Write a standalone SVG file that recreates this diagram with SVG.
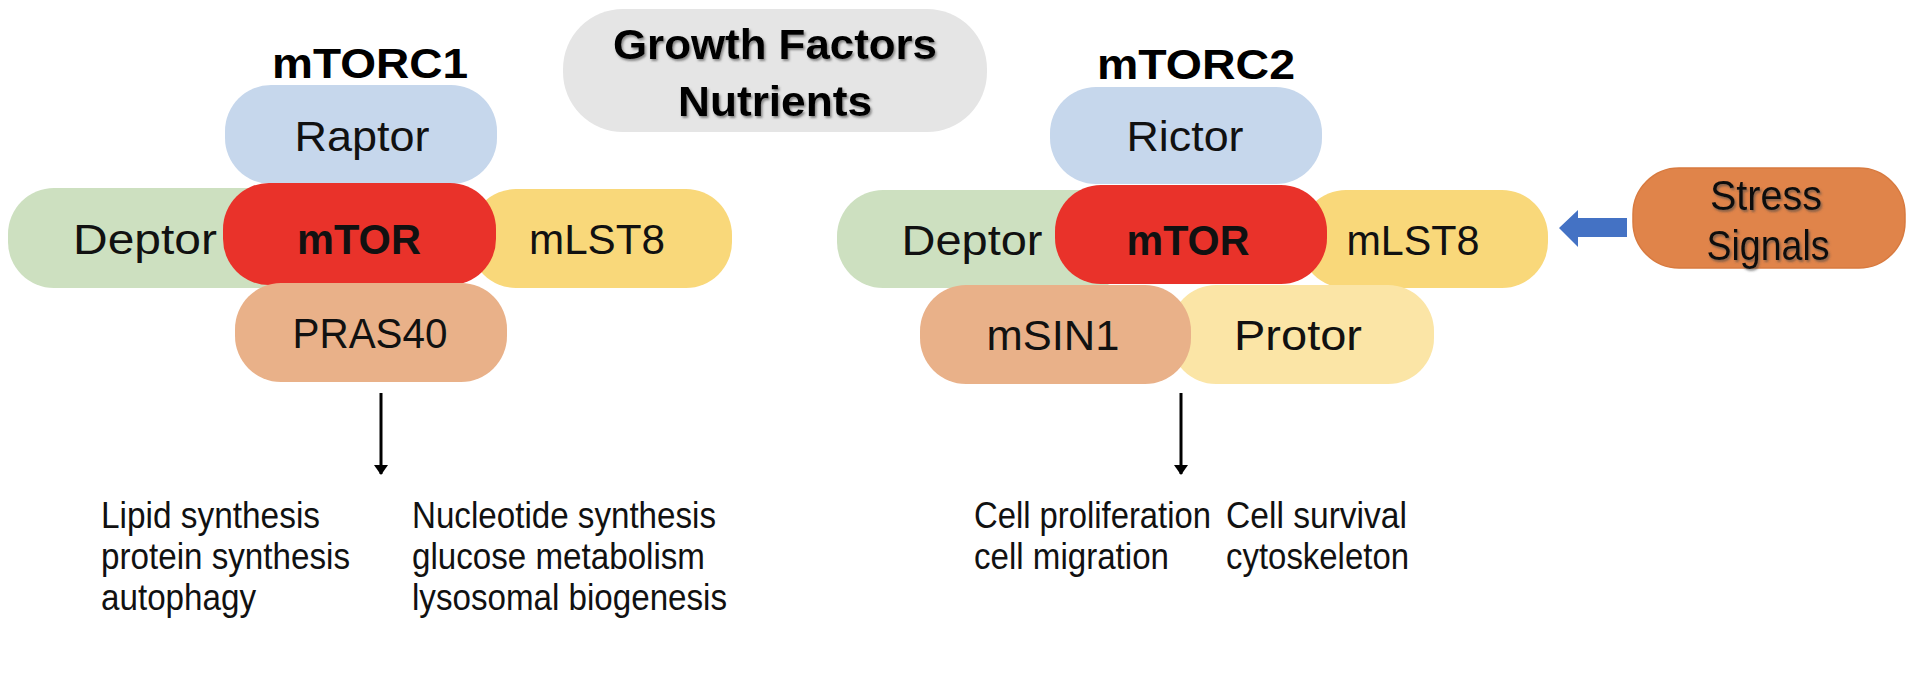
<svg xmlns="http://www.w3.org/2000/svg" width="1913" height="688" viewBox="0 0 1913 688">
<defs>
<style>
.lbl{font-family:"Liberation Sans",Arial,sans-serif;font-size:43px;fill:#111;text-anchor:middle;}
.bold{font-weight:bold;}
.title{font-family:"Liberation Sans",Arial,sans-serif;font-size:42px;font-weight:bold;fill:#000;text-anchor:middle;}
.out{font-family:"Liberation Sans",Arial,sans-serif;font-size:36px;fill:#111;}
.raptor{fill:#c6d7ec;}
.deptor{fill:#cde0c0;}
.mtor{fill:#e9322a;}
.mlst8{fill:#f9d87a;}
.pras{fill:#e9b189;}
.protor{fill:#fbe5a6;}
.stress{fill:#e0844a;stroke:#d87a3f;stroke-width:1.5;}
.growth{fill:#e5e5e5;}
.conn{stroke:#000;stroke-width:3;fill:none;}
</style>
<filter id="shadow" x="-10%" y="-20%" width="120%" height="150%">
<feDropShadow dx="1.5" dy="2" stdDeviation="1.2" flood-color="#444" flood-opacity="0.6"/>
</filter>
<marker id="ah" viewBox="0 0 10 14" refX="9" refY="7" markerWidth="10" markerHeight="14" markerUnits="userSpaceOnUse" orient="auto">
<path d="M0,0 L10,7 L0,14 z" fill="#000" transform="rotate(0)"/>
</marker>
</defs>
<rect width="1913" height="688" fill="#fff"/>

<g id="growth-factors">
<rect class="growth" x="563" y="9" width="424" height="123" rx="60"/>
<text class="title" x="775" y="59" font-size="40" textLength="324" lengthAdjust="spacingAndGlyphs" filter="url(#shadow)">Growth Factors</text>
<text class="title" x="775" y="116" font-size="40" textLength="194" lengthAdjust="spacingAndGlyphs" filter="url(#shadow)">Nutrients</text>
</g>

<g id="mTORC1">
<text class="title" x="370" y="78" textLength="196" lengthAdjust="spacingAndGlyphs">mTORC1</text>
<g id="c1-raptor"><rect class="raptor" x="225" y="85" width="272" height="99" rx="46"/>
<text class="lbl" x="362" y="151" textLength="135" lengthAdjust="spacingAndGlyphs">Raptor</text></g>
<g id="c1-deptor"><rect class="deptor" x="8" y="188" width="300" height="100" rx="46"/>
<text class="lbl" x="145" y="254" textLength="144" lengthAdjust="spacingAndGlyphs">Deptor</text></g>
<g id="c1-mlst8"><rect class="mlst8" x="470" y="189" width="262" height="99" rx="46"/>
<text class="lbl" x="597" y="254" textLength="136" lengthAdjust="spacingAndGlyphs">mLST8</text></g>
<g id="c1-mtor"><rect class="mtor" x="223" y="183" width="273" height="102" rx="46"/>
<text class="lbl bold" x="359" y="254" textLength="124" lengthAdjust="spacingAndGlyphs">mTOR</text></g>
<g id="c1-pras40"><rect class="pras" x="235" y="283" width="272" height="99" rx="46"/>
<text class="lbl" x="370" y="348" textLength="155" lengthAdjust="spacingAndGlyphs">PRAS40</text></g>
</g>

<g id="mTORC2">
<text class="title" x="1196" y="79" textLength="198" lengthAdjust="spacingAndGlyphs">mTORC2</text>
<g id="c2-rictor"><rect class="raptor" x="1050" y="87" width="272" height="97" rx="46"/>
<text class="lbl" x="1185" y="151" textLength="117" lengthAdjust="spacingAndGlyphs">Rictor</text></g>
<g id="c2-deptor"><rect class="deptor" x="837" y="190" width="300" height="98" rx="46"/>
<text class="lbl" x="972" y="255" textLength="141" lengthAdjust="spacingAndGlyphs">Deptor</text></g>
<g id="c2-mlst8"><rect class="mlst8" x="1300" y="190" width="248" height="98" rx="46"/>
<text class="lbl" x="1413" y="255" textLength="133" lengthAdjust="spacingAndGlyphs">mLST8</text></g>
<g id="c2-mtor"><rect class="mtor" x="1055" y="185" width="272" height="99" rx="46"/>
<text class="lbl bold" x="1188" y="255" textLength="123" lengthAdjust="spacingAndGlyphs">mTOR</text></g>
<g id="c2-protor"><rect class="protor" x="1170" y="285" width="264" height="99" rx="46"/>
<text class="lbl" x="1298" y="350" textLength="128" lengthAdjust="spacingAndGlyphs">Protor</text></g>
<g id="c2-msin1"><rect class="pras" x="920" y="285" width="271" height="99" rx="46"/>
<text class="lbl" x="1053" y="350" textLength="133" lengthAdjust="spacingAndGlyphs">mSIN1</text></g>
</g>

<g id="stress-signals">
<rect class="stress" x="1633" y="168" width="272" height="100" rx="46"/>
<text class="lbl" x="1766" y="210" textLength="112" lengthAdjust="spacingAndGlyphs" filter="url(#shadow)">Stress</text>
<text class="lbl" x="1768" y="260" textLength="123" lengthAdjust="spacingAndGlyphs" filter="url(#shadow)">Signals</text>
</g>

<g id="connectors">
<line class="conn" x1="381" y1="393" x2="381" y2="474" marker-end="url(#ah)"/>
<line class="conn" x1="1181" y1="393" x2="1181" y2="474" marker-end="url(#ah)"/>
<polygon points="1627,218 1578,218 1578,210 1559,228 1578,247 1578,237 1627,237" fill="#4472c4"/>
</g>

<g id="mTORC1-outputs">
<text class="out" x="101" y="528" textLength="219" lengthAdjust="spacingAndGlyphs">Lipid synthesis</text>
<text class="out" x="101" y="569" textLength="249" lengthAdjust="spacingAndGlyphs">protein synthesis</text>
<text class="out" x="101" y="610" textLength="155" lengthAdjust="spacingAndGlyphs">autophagy</text>
<text class="out" x="412" y="528" textLength="304" lengthAdjust="spacingAndGlyphs">Nucleotide synthesis</text>
<text class="out" x="412" y="569" textLength="293" lengthAdjust="spacingAndGlyphs">glucose metabolism</text>
<text class="out" x="412" y="610" textLength="315" lengthAdjust="spacingAndGlyphs">lysosomal biogenesis</text>
</g>

<g id="mTORC2-outputs">
<text class="out" x="974" y="528" textLength="237" lengthAdjust="spacingAndGlyphs">Cell proliferation</text>
<text class="out" x="974" y="569" textLength="195" lengthAdjust="spacingAndGlyphs">cell migration</text>
<text class="out" x="1226" y="528" textLength="181" lengthAdjust="spacingAndGlyphs">Cell survival</text>
<text class="out" x="1226" y="569" textLength="183" lengthAdjust="spacingAndGlyphs">cytoskeleton</text>
</g>
</svg>
